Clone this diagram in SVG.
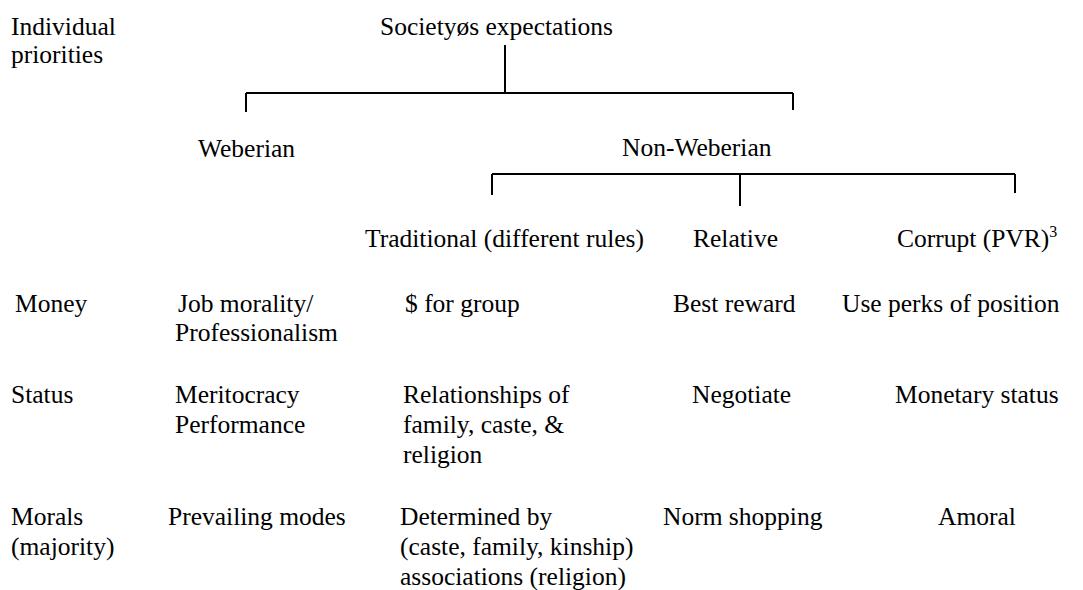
<svg xmlns="http://www.w3.org/2000/svg" width="1083" height="590" viewBox="0 0 1083 590" font-family="'Liberation Serif', 'Times New Roman', serif" font-size="25.5">
<style>
text{font-family:'Liberation Serif','Times New Roman',serif;font-size:25.5px;fill:#000}
.c{stroke:#000;stroke-width:2;fill:none}
.sup{font-size:16px}
</style>
<rect width="1083" height="590" fill="#fff"/>
<g id="connectors">
<path class="c" d="M505,45 V93 M246,93 H793 M246,93 V112 M793,93 V110"/>
<path class="c" d="M492,174 H1015 M492,174 V195 M740,174 V206 M1015,174 V193"/>
</g>
<g id="individual-priorities"><text x="11" y="35">Individual</text><text x="11" y="63">priorities</text></g>
<g id="society"><text x="380" y="35">Societyøs expectations</text></g>
<g id="weberian"><text x="198" y="157">Weberian</text></g>
<g id="non-weberian"><text x="622" y="156">Non-Weberian</text></g>
<g id="traditional"><text x="365" y="247">Traditional (different rules)</text></g>
<g id="relative"><text x="693" y="247">Relative</text></g>
<g id="corrupt"><text x="897" y="247">Corrupt (PVR)<tspan class="sup" dy="-10">3</tspan></text></g>
<g id="money"><text x="15" y="312">Money</text></g>
<g id="job-morality"><text x="178" y="312">Job morality/</text><text x="175" y="341">Professionalism</text></g>
<g id="for-group"><text x="405" y="312">$ for group</text></g>
<g id="best-reward"><text x="673" y="312">Best reward</text></g>
<g id="use-perks"><text x="842" y="312">Use perks of position</text></g>
<g id="status"><text x="11" y="403">Status</text></g>
<g id="meritocracy"><text x="175" y="403">Meritocracy</text><text x="175" y="433">Performance</text></g>
<g id="relationships"><text x="403" y="403">Relationships of</text><text x="403" y="433">family, caste, &amp;</text><text x="403" y="463">religion</text></g>
<g id="negotiate"><text x="692" y="403">Negotiate</text></g>
<g id="monetary-status"><text x="895" y="403">Monetary status</text></g>
<g id="morals"><text x="11" y="525">Morals</text><text x="11" y="555">(majority)</text></g>
<g id="prevailing"><text x="168" y="525">Prevailing modes</text></g>
<g id="determined"><text x="400" y="525">Determined by</text><text x="400" y="555">(caste, family, kinship)</text><text x="400" y="585">associations (religion)</text></g>
<g id="norm-shopping"><text x="663" y="525">Norm shopping</text></g>
<g id="amoral"><text x="938" y="525">Amoral</text></g>
</svg>
